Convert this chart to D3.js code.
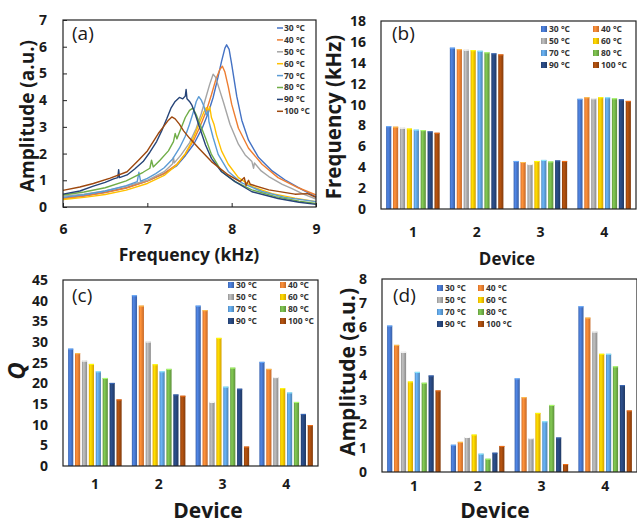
<!DOCTYPE html>
<html>
<head>
<meta charset="utf-8">
<script src="https://cdn.jsdelivr.net/npm/d3@7/dist/d3.min.js"></script>
<style>
  html, body { margin: 0; padding: 0; background: #fff; }
  svg { display: block; font-family: "Open Sans", sans-serif; }
  .tick text { font-weight: 700; font-size: 14px; fill: #1a1a1a; }
  .title { font-weight: 700; fill: #1a1a1a; }
  .tag { font-size: 19px; fill: #1a1a1a; }
  .legend text { font-weight: 700; font-size: 8.5px; fill: #333; }
  .frame { fill: none; stroke: #222; stroke-width: 1.2; }
</style>
</head>
<body>
<svg id="fig" width="637" height="524"></svg>
<script>
// ---- data ----
const temps = ["30 °C", "40 °C", "50 °C", "60 °C", "70 °C", "80 °C", "90 °C", "100 °C"];
const colors = ["#4472c4", "#ed7d31", "#a5a5a5", "#ffc000", "#5b9bd5", "#70ad47", "#264478", "#9e480e"];
const devices = ["1", "2", "3", "4"];

// (a) frequency sweeps of device 1, [kHz, a.u.]
const sweep30 = [[6.0,0.33],[6.25,0.42],[6.5,0.55],[6.75,0.72],[7.0,0.98],[7.2,1.25],[7.35,1.55],[7.45,1.92],[7.55,2.35],[7.65,2.95],[7.72,3.5],[7.78,4.1],[7.83,4.75],[7.88,5.45],[7.92,5.95],[7.94,6.07],[7.97,5.9],[8.0,5.35],[8.06,4.15],[8.12,3.25],[8.2,2.5],[8.32,1.85],[8.48,1.35],[8.63,1.02],[8.83,0.66],[9.0,0.38]];
const sweep40 = [[6.0,0.32],[6.25,0.41],[6.5,0.54],[6.75,0.71],[7.0,0.97],[7.2,1.26],[7.35,1.6],[7.45,1.98],[7.55,2.5],[7.63,3.05],[7.7,3.6],[7.76,4.2],[7.81,4.75],[7.86,5.15],[7.89,5.27],[7.92,5.05],[7.96,4.5],[8.0,3.85],[8.08,2.95],[8.2,2.2],[8.36,1.6],[8.55,1.1],[8.79,0.72],[9.0,0.45]];
const sweep50 = [[6.0,0.4],[6.25,0.48],[6.5,0.6],[6.75,0.78],[7.0,1.0],[7.2,1.32],[7.3,1.62],[7.31,1.85],[7.32,1.65],[7.4,1.95],[7.5,2.4],[7.58,2.95],[7.64,3.5],[7.69,4.05],[7.74,4.6],[7.78,4.97],[7.81,4.85],[7.85,4.45],[7.9,3.95],[7.98,3.1],[8.08,2.35],[8.16,1.95],[8.24,1.7],[8.26,1.45],[8.27,1.65],[8.35,1.35],[8.44,1.14],[8.6,0.85],[8.71,0.7],[8.85,0.48],[9.0,0.3]];
const sweep60 = [[6.0,0.28],[6.25,0.36],[6.5,0.47],[6.75,0.63],[7.0,0.88],[7.2,1.18],[7.35,1.58],[7.45,2.0],[7.52,2.4],[7.58,2.85],[7.63,3.25],[7.67,3.55],[7.7,3.72],[7.72,3.6],[7.74,3.75],[7.76,3.35],[7.79,3.1],[7.82,2.7],[7.88,2.1],[7.96,1.6],[8.08,1.1],[8.24,0.77],[8.48,0.5],[8.75,0.33],[9.0,0.2]];
const sweep70 = [[6.0,0.36],[6.25,0.46],[6.5,0.6],[6.75,0.8],[6.88,0.95],[6.9,1.3],[6.92,0.97],[7.0,1.07],[7.1,1.25],[7.2,1.47],[7.3,1.8],[7.38,2.2],[7.45,2.65],[7.5,3.1],[7.55,3.6],[7.58,3.95],[7.61,4.13],[7.64,4.0],[7.67,3.78],[7.7,3.45],[7.72,3.6],[7.73,3.2],[7.78,2.6],[7.84,1.97],[7.96,1.33],[8.12,0.9],[8.36,0.58],[8.63,0.36],[9.0,0.2]];
const sweep80 = [[6.0,0.45],[6.25,0.56],[6.5,0.72],[6.75,0.98],[6.95,1.3],[7.03,1.45],[7.05,1.75],[7.07,1.5],[7.15,1.75],[7.25,2.1],[7.31,2.45],[7.33,2.75],[7.35,2.55],[7.4,2.95],[7.45,3.35],[7.5,3.62],[7.54,3.7],[7.58,3.45],[7.61,3.2],[7.65,2.9],[7.69,2.58],[7.76,1.97],[7.88,1.33],[8.04,0.95],[8.24,0.64],[8.52,0.39],[8.8,0.22],[9.0,0.13]];
const sweep90 = [[6.0,0.48],[6.2,0.6],[6.36,0.78],[6.5,0.92],[6.6,1.05],[6.65,1.1],[6.66,1.4],[6.67,1.1],[6.76,1.2],[6.85,1.42],[6.95,1.7],[7.03,2.05],[7.11,2.45],[7.17,2.85],[7.23,3.3],[7.28,3.7],[7.33,3.95],[7.38,4.1],[7.42,4.05],[7.45,4.15],[7.46,4.4],[7.47,4.05],[7.5,3.95],[7.53,3.8],[7.57,3.45],[7.61,3.07],[7.69,2.32],[7.76,1.82],[7.88,1.32],[8.04,0.95],[8.24,0.57],[8.55,0.32],[8.8,0.18],[9.0,0.1]];
const sweep100 = [[6.0,0.62],[6.2,0.75],[6.36,0.88],[6.56,1.08],[6.76,1.32],[6.91,1.8],[7.0,2.1],[7.07,2.45],[7.13,2.75],[7.19,3.0],[7.25,3.25],[7.29,3.37],[7.33,3.3],[7.38,3.1],[7.43,2.85],[7.5,2.58],[7.61,2.2],[7.76,1.7],[7.96,1.2],[8.1,0.95],[8.15,1.1],[8.17,0.8],[8.2,1.0],[8.22,0.85],[8.44,0.64],[8.75,0.48],[8.9,0.5],[9.0,0.36]];
const sweeps = [sweep30, sweep40, sweep50, sweep60, sweep70, sweep80, sweep90, sweep100];

// (b) resonance frequency (kHz), one row per device, one value per temperature
const resFreq = [
  [7.93, 7.88, 7.78, 7.7, 7.6, 7.55, 7.43, 7.3],
  [15.45, 15.3, 15.25, 15.2, 15.15, 15.0, 14.9, 14.8],
  [4.6, 4.5, 4.3, 4.6, 4.7, 4.55, 4.65, 4.6],
  [10.55, 10.7, 10.6, 10.7, 10.7, 10.6, 10.5, 10.35]
];
// (c) quality factor
const qFactor = [
  [28.4, 27.3, 25.5, 24.7, 22.9, 21.3, 20.1, 16.1],
  [41.3, 38.8, 30.1, 24.6, 22.9, 23.5, 17.3, 17.0],
  [38.8, 37.7, 15.5, 31.0, 19.2, 23.8, 18.7, 4.7],
  [25.2, 23.5, 21.5, 18.8, 17.8, 15.5, 12.6, 9.9]
];
// (d) peak amplitude
const peakAmp = [
  [6.07, 5.27, 4.98, 3.75, 4.15, 3.7, 4.0, 3.38],
  [1.13, 1.25, 1.45, 1.55, 0.76, 0.55, 0.8, 1.08],
  [3.88, 3.1, 1.4, 2.45, 2.1, 2.78, 1.43, 0.33],
  [6.87, 6.4, 5.82, 4.9, 4.9, 4.38, 3.6, 2.55]
];

const svg = d3.select("#fig");

// cylinder-like shading for the bars, like the spreadsheet's 3-D style
const defs = svg.append("defs");
colors.forEach(function(c, i) {
  const g = defs.append("linearGradient").attr("id", "bar" + i)
    .attr("x1", 0).attr("x2", 1).attr("y1", 0).attr("y2", 0);
  g.append("stop").attr("offset", "0%").attr("stop-color", d3.color(c).darker(0.3));
  g.append("stop").attr("offset", "35%").attr("stop-color", d3.color(c).brighter(0.45));
  g.append("stop").attr("offset", "100%").attr("stop-color", d3.color(c).darker(0.5));
});

function cleanAxis(g) {
  g.attr("font-size", null).attr("font-family", null);
  g.select(".domain").remove();
}

function frame(x, y) {
  svg.append("rect").attr("class", "frame")
    .attr("x", x.range()[0]).attr("y", y.range()[1])
    .attr("width", x.range()[1] - x.range()[0])
    .attr("height", y.range()[0] - y.range()[1]);
}

function title(txt, x, y, size, rotate, italic) {
  const t = svg.append("text").attr("class", "title")
    .attr("text-anchor", "middle")
    .style("font-size", size + "px")
    .text(txt);
  if (italic) t.style("font-style", "italic");
  if (rotate) t.attr("transform", `translate(${x},${y}) rotate(-90)`).attr("dy", "0.35em");
  else t.attr("x", x).attr("y", y);
}

function tag(txt, x, y) {
  svg.append("text").attr("class", "tag").attr("x", x).attr("y", y).text(txt);
}

// ---- (a) sweeps ----
(function() {
  const x = d3.scaleLinear().domain([6, 9]).range([63, 316]);
  const y = d3.scaleLinear().domain([0, 7]).range([207, 20]);

  svg.append("g").attr("transform", "translate(0,207)")
    .call(d3.axisBottom(x).ticks(3).tickSizeInner(-4).tickSizeOuter(0).tickPadding(17))
    .call(cleanAxis);
  svg.append("g").attr("transform", "translate(63,0)")
    .call(d3.axisLeft(y).ticks(7).tickSizeInner(-4).tickSizeOuter(0).tickPadding(16))
    .call(cleanAxis);
  svg.selectAll(".tick line").attr("stroke", "#222");

  const line = d3.line().x(d => x(d[0])).y(d => y(d[1]));
  svg.append("g").selectAll("path").data(sweeps).join("path")
    .attr("d", line)
    .attr("fill", "none")
    .attr("stroke", (d, i) => colors[i])
    .attr("stroke-width", 1.4)
    .attr("stroke-linejoin", "round");

  frame(x, y);

  const lg = svg.append("g").attr("class", "legend");
  temps.forEach(function(t, i) {
    const yy = 28 + i * 11.9;
    lg.append("line").attr("x1", 277).attr("x2", 283).attr("y1", yy).attr("y2", yy)
      .attr("stroke", colors[i]).attr("stroke-width", 1.5);
    lg.append("text").attr("x", 284).attr("y", yy).attr("dy", "0.35em").text(t);
  });

  tag("(a)", 72, 40);
  title("Amplitude (a.u.)", 27, 116, 19, true);
  title("Frequency (kHz)", 189, 261, 17.5);
})();

// ---- bar panels ----
function barPanel(values, opt) {
  const x = d3.scaleBand().domain(devices).range(opt.xr).paddingInner(0.16).paddingOuter(0.08);
  const xi = d3.scaleBand().domain(temps).range([0, x.bandwidth()]).paddingInner(0.25);
  const y = d3.scaleLinear().domain([0, opt.max]).range(opt.yr);

  svg.append("g").attr("transform", `translate(0,${opt.yr[0]})`)
    .call(d3.axisBottom(x).tickSize(0).tickPadding(opt.xpad))
    .call(cleanAxis);
  svg.append("g").attr("transform", `translate(${opt.xr[0]},0)`)
    .call(d3.axisLeft(y).tickValues(d3.range(0, opt.max + 0.001, opt.step)).tickSize(0).tickPadding(15))
    .call(cleanAxis);

  const groups = svg.append("g").selectAll("g").data(values).join("g")
    .attr("transform", (d, i) => `translate(${x(devices[i])},0)`);
  groups.selectAll("rect").data(d => d).join("rect")
    .attr("x", (d, j) => xi(temps[j]))
    .attr("width", xi.bandwidth())
    .attr("y", d => y(d))
    .attr("height", d => y(0) - y(d))
    .attr("fill", (d, j) => `url(#bar${j})`);
  // light rim on top of each bar
  groups.selectAll("line").data(d => d).join("line")
    .attr("x1", (d, j) => xi(temps[j]))
    .attr("x2", (d, j) => xi(temps[j]) + xi.bandwidth())
    .attr("y1", d => y(d) + 0.5).attr("y2", d => y(d) + 0.5)
    .attr("stroke", (d, j) => d3.color(colors[j]).brighter(1.2))
    .attr("stroke-width", 1);

  frame(x, y);

  const lg = svg.append("g").attr("class", "legend");
  temps.forEach(function(t, i) {
    const lx = opt.leg[0] + (i % 2) * opt.leg[2];
    const ly = opt.leg[1] + Math.floor(i / 2) * 12;
    lg.append("rect").attr("x", lx).attr("y", ly - 3).attr("width", 6).attr("height", 6)
      .attr("fill", `url(#bar${i})`);
    lg.append("text").attr("x", lx + 8).attr("y", ly).attr("dy", "0.35em").text(t);
  });
}

// (b)
barPanel(resFreq, { xr: [381, 636], yr: [209, 21], max: 18, step: 2, xpad: 18, leg: [541, 29, 52] });
tag("(b)", 392, 40);
title("Frequency (kHz)", 334, 117, 20.5, true);
title("Device", 507, 265, 17);

// (c)
barPanel(qFactor, { xr: [63, 318], yr: [466, 280], max: 45, step: 5, xpad: 13, leg: [228, 285, 52] });
tag("(c)", 72, 302);
title("Q", 17, 371, 24, true, true);
title("Device", 208, 518, 21);

// (d)
barPanel(peakAmp, { xr: [382, 637], yr: [472, 279], max: 8, step: 1, xpad: 9, leg: [437, 288, 41] });
tag("(d)", 393, 302);
title("Amplitude (a.u.)", 348, 372, 21, true);
title("Device", 495, 518, 21);
</script>
</body>
</html>
